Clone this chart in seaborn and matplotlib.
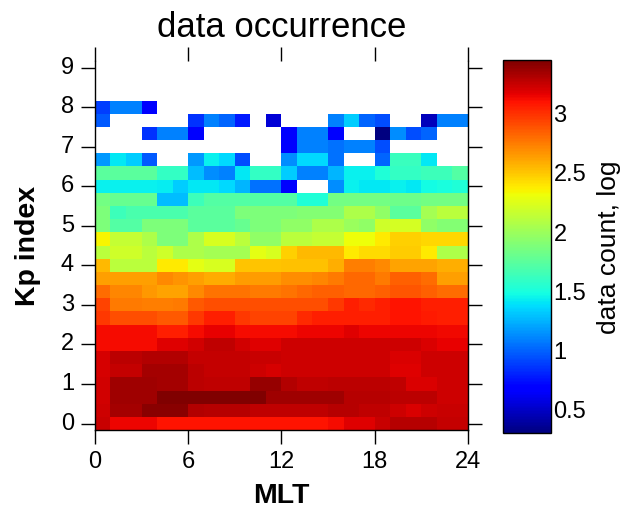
import matplotlib
matplotlib.use('Agg')
import matplotlib.pyplot as plt
import numpy as np
import pandas as pd
import seaborn as sns

nan = np.nan

# MLT bins (1 h) and Kp levels (0, 0+, 1-, 1, ... 9)
mlt_hours = list(range(24))
kp_levels = [round(i / 3, 2) for i in range(28)]

# log10 of data count per bin, one list per Kp level (bottom to top)
kp0  = [3.25, 3.15, 3.15, 3.15, 3.10, 3.10, 3.10, 3.10, 3.10, 3.10, 3.10, 3.10, 3.10, 3.10, 3.10, 3.12, 3.18, 3.18, 3.25, 3.30, 3.30, 3.30, 3.26, 3.26]
kp0p = [3.24, 3.35, 3.35, 3.42, 3.42, 3.42, 3.31, 3.30, 3.30, 3.30, 3.27, 3.27, 3.27, 3.27, 3.27, 3.30, 3.30, 3.27, 3.27, 3.23, 3.20, 3.23, 3.25, 3.25]
kp1m = [3.22, 3.36, 3.36, 3.36, 3.44, 3.44, 3.44, 3.44, 3.44, 3.44, 3.44, 3.36, 3.36, 3.36, 3.36, 3.36, 3.30, 3.30, 3.30, 3.28, 3.28, 3.28, 3.24, 3.24]
kp1  = [3.22, 3.36, 3.36, 3.36, 3.34, 3.34, 3.29, 3.27, 3.27, 3.27, 3.38, 3.38, 3.31, 3.27, 3.27, 3.29, 3.29, 3.29, 3.29, 3.27, 3.20, 3.20, 3.24, 3.24]
kp1p = [3.21, 3.26, 3.26, 3.35, 3.35, 3.35, 3.28, 3.26, 3.26, 3.26, 3.24, 3.21, 3.24, 3.24, 3.24, 3.24, 3.24, 3.24, 3.24, 3.19, 3.19, 3.23, 3.23, 3.23]
kp2m = [3.21, 3.28, 3.28, 3.31, 3.31, 3.31, 3.26, 3.26, 3.26, 3.26, 3.25, 3.25, 3.24, 3.24, 3.24, 3.24, 3.24, 3.24, 3.24, 3.20, 3.20, 3.24, 3.24, 3.24]
kp2  = [3.13, 3.13, 3.13, 3.13, 3.18, 3.18, 3.22, 3.27, 3.27, 3.22, 3.18, 3.18, 3.23, 3.23, 3.23, 3.23, 3.23, 3.23, 3.23, 3.23, 3.23, 3.20, 3.16, 3.16]
kp2p = [3.12, 3.12, 3.12, 3.12, 3.06, 3.06, 3.12, 3.16, 3.16, 3.12, 3.12, 3.12, 3.12, 3.15, 3.15, 3.15, 3.19, 3.15, 3.15, 3.15, 3.15, 3.15, 3.14, 3.14]
kp3m = [2.98, 2.90, 2.90, 2.90, 2.86, 2.86, 2.98, 3.06, 3.06, 2.98, 2.94, 2.94, 2.94, 3.02, 3.06, 3.06, 3.06, 3.06, 3.06, 3.10, 3.10, 3.08, 3.06, 3.06]
kp3  = [2.94, 2.76, 2.76, 2.74, 2.74, 2.76, 2.86, 2.90, 2.90, 2.90, 2.90, 2.90, 2.90, 2.90, 2.90, 2.98, 3.06, 3.02, 3.06, 3.10, 3.10, 3.06, 3.06, 3.06]
kp3p = [2.80, 2.72, 2.72, 2.66, 2.62, 2.62, 2.70, 2.78, 2.78, 2.78, 2.76, 2.76, 2.78, 2.82, 2.84, 2.84, 2.82, 2.82, 2.84, 2.88, 2.88, 2.84, 2.80, 2.80]
kp4m = [2.63, 2.63, 2.63, 2.63, 2.71, 2.67, 2.63, 2.59, 2.59, 2.65, 2.65, 2.65, 2.69, 2.69, 2.72, 2.75, 2.82, 2.82, 2.75, 2.84, 2.84, 2.80, 2.63, 2.63]
kp4  = [2.54, 2.11, 2.11, 2.11, 2.39, 2.39, 2.27, 2.23, 2.23, 2.51, 2.51, 2.51, 2.52, 2.52, 2.52, 2.58, 2.74, 2.74, 2.70, 2.62, 2.62, 2.62, 2.58, 2.58]
kp4p = [2.11, 2.19, 2.19, 2.11, 2.19, 2.07, 2.07, 2.03, 2.03, 2.03, 2.27, 2.23, 2.47, 2.54, 2.54, 2.54, 2.39, 2.43, 2.43, 2.49, 2.49, 2.39, 2.07, 2.07]
kp5m = [2.35, 2.15, 2.15, 2.07, 1.88, 1.88, 2.07, 2.23, 2.23, 2.11, 1.95, 1.95, 2.11, 2.11, 2.15, 2.15, 2.31, 2.31, 2.39, 2.47, 2.47, 2.45, 2.45, 2.45]
kp5  = [1.88, 1.72, 1.72, 1.88, 1.88, 1.88, 1.75, 1.75, 1.75, 1.79, 1.88, 1.88, 1.95, 1.95, 2.07, 2.07, 1.99, 1.95, 2.19, 2.21, 2.21, 1.95, 1.91, 1.91]
kp5p = [1.88, 1.64, 1.68, 1.68, 1.68, 1.68, 1.75, 1.75, 1.75, 1.88, 1.88, 1.88, 1.88, 1.91, 1.91, 1.91, 2.07, 2.07, 1.95, 1.75, 1.75, 2.03, 2.11, 2.11]
kp6m = [1.85, 1.80, 1.80, 1.80, 1.28, 1.28, 1.64, 1.72, 1.72, 1.72, 1.72, 1.72, 1.72, 1.52, 1.52, 1.85, 1.85, 1.85, 1.85, 1.82, 1.82, 1.85, 1.85, 1.85]
kp6  = [1.44, 1.44, 1.44, 1.44, 1.42, 1.33, 1.41, 1.41, 1.37, 1.25, 1.05, 1.05, 0.69, nan, nan, 1.13, 1.44, 1.41, 1.41, 1.44, 1.41, 1.48, 1.50, 1.52]
kp6p = [1.75, 1.75, 1.75, 1.75, 1.60, 1.60, 1.28, 1.13, 1.09, 1.41, 1.60, 1.60, 1.33, 1.09, 1.09, 1.25, 1.44, 1.44, 1.52, 1.60, 1.60, 1.64, 1.64, 1.72]
kp7m = [1.17, 1.41, 1.33, 0.97, nan, nan, 1.17, 1.44, 1.37, 0.93, nan, nan, 1.13, 1.37, 1.37, 1.05, nan, nan, 1.01, 1.62, 1.62, 1.41, nan, nan]
kp7  = [nan, nan, nan, nan, nan, nan, nan, nan, nan, nan, nan, nan, 0.69, 1.09, 1.09, 1.05, 1.09, 1.09, 0.93, nan, nan, nan, nan, nan]
kp7p = [nan, nan, nan, 0.85, 1.09, 1.09, 0.69, nan, nan, nan, nan, nan, 0.69, 1.09, 1.09, 0.66, nan, nan, 0.30, 1.13, 0.93, 1.01, nan, nan]
kp8m = [0.97, nan, nan, nan, nan, nan, 0.85, 1.09, 1.01, 0.77, nan, 0.54, nan, nan, nan, 1.09, 1.33, 1.01, 0.93, nan, nan, 0.46, 1.09, 1.09]
kp8  = [0.89, 1.09, 1.09, 0.69, nan, nan, nan, nan, nan, nan, nan, nan, nan, nan, nan, nan, nan, nan, nan, nan, nan, nan, nan, nan]
kp8p = [nan] * 24
kp9m = [nan] * 24
kp9  = [nan] * 24

rows = [kp0, kp0p, kp1m, kp1, kp1p, kp2m, kp2, kp2p, kp3m, kp3, kp3p, kp4m, kp4,
        kp4p, kp5m, kp5, kp5p, kp6m, kp6, kp6p, kp7m, kp7, kp7p, kp8m, kp8, kp8p,
        kp9m, kp9]
occ = pd.DataFrame(rows, index=kp_levels, columns=mlt_hours)

sns.set_style('white')
plt.rcParams['font.family'] = ['Liberation Sans', 'DejaVu Sans']
plt.rcParams['text.color'] = 'k'
plt.rcParams['axes.labelcolor'] = 'k'
plt.rcParams['xtick.color'] = 'k'
plt.rcParams['ytick.color'] = 'k'

fig = plt.figure(figsize=(6.33, 5.17), dpi=100)
ax = fig.add_axes([0.150, 0.168, 0.589, 0.714])
cax = fig.add_axes([0.795, 0.162, 0.075, 0.721])

sns.heatmap(occ, ax=ax, cbar_ax=cax, cmap='jet', vmin=0.3, vmax=3.45,
            linewidths=0)
ax.set_ylim(0, len(kp_levels))
ax.set_xlim(0, 24)

for s in ['left', 'bottom', 'right']:
    ax.spines[s].set_visible(True)
    ax.spines[s].set_color('k')
    ax.spines[s].set_linewidth(1)
ax.spines['top'].set_visible(False)

ax.set_xticks([0, 6, 12, 18, 24])
ax.set_xticklabels(['0', '6', '12', '18', '24'], rotation=0)
ax.set_yticks([3 * n + 0.5 for n in range(10)])
ax.set_yticklabels([str(n) for n in range(10)], rotation=0, va='center')
ax.tick_params(direction='out', length=10, width=1, color='k', labelcolor='k',
               labelsize=17, top=True, bottom=True, left=True, right=True,
               labeltop=False, labelright=False, pad=5)

ax.set_xlabel('MLT', fontsize=20.5, fontweight='bold', labelpad=7, color='k')
ax.set_ylabel('Kp index', fontsize=20.5, fontweight='bold', labelpad=14, color='k')
fig.text(0.4445, 1 - 37 / 517, 'data occurrence', ha='center', va='baseline',
         fontsize=25, color='k')

cbar = ax.collections[0].colorbar
cbar.set_ticks([0.5, 1, 1.5, 2, 2.5, 3])
cbar.set_ticklabels(['0.5', '1', '1.5', '2', '2.5', '3'])
cax.tick_params(direction='in', left=True, right=True, length=10, width=1,
                color='k', labelcolor='k', labelsize=17, pad=2)
cbar.outline.set_edgecolor('k')
cbar.outline.set_linewidth(1)
cbar.set_label('data count, log', fontsize=19, labelpad=8, color='k')

fig.savefig('out.png', dpi=100)
